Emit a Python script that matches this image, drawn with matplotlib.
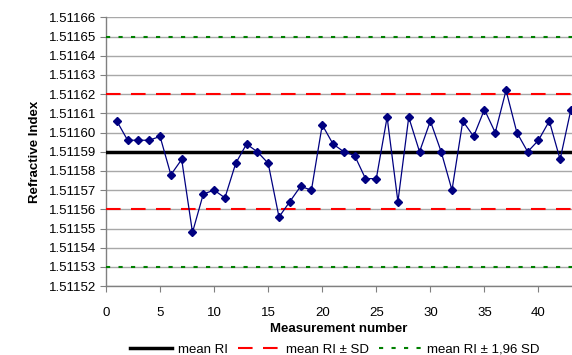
import matplotlib
matplotlib.use("Agg")
import matplotlib.pyplot as plt
from matplotlib.ticker import MultipleLocator, FormatStrFormatter

plt.rcParams['font.family'] = ['Liberation Sans', 'DejaVu Sans']

measurement = list(range(1, 44))
ri = [1.511606, 1.511596, 1.511596, 1.511596, 1.511598, 1.511578, 1.511586,
      1.511548, 1.511568, 1.511570, 1.511566, 1.511584, 1.511594, 1.511590,
      1.511584, 1.511556, 1.511564, 1.511572, 1.511570, 1.511604, 1.511594,
      1.511590, 1.511588, 1.511576, 1.511576, 1.511608, 1.511564, 1.511608,
      1.511590, 1.511606, 1.511590, 1.511570, 1.511606, 1.511598, 1.511612,
      1.511600, 1.511622, 1.511600, 1.511590, 1.511596, 1.511606, 1.511586,
      1.511612]
mean_ri = 1.51159
sd_limits = [1.51156, 1.51162]
sd196_limits = [1.51153, 1.51165]

fig = plt.figure(figsize=(5.72, 3.55), dpi=100)
ax = fig.add_axes([0.1853, 0.194, 0.8147, 0.757])

ax.set_xlim(0, 43.1)
ax.set_ylim(1.51152, 1.51166)
ax.yaxis.set_major_locator(MultipleLocator(0.00001))
ax.yaxis.set_major_formatter(FormatStrFormatter('%.5f'))
ax.xaxis.set_major_locator(MultipleLocator(5))
ax.grid(axis='y', color='#a8a8a8', lw=1.0, zorder=0)
ax.set_axisbelow(True)

for s in ['top', 'right']:
    ax.spines[s].set_visible(False)
for s in ['left', 'bottom']:
    ax.spines[s].set_color('#808080')
    ax.spines[s].set_linewidth(1.0)
ax.tick_params(axis='both', direction='out', length=4, color='#808080',
               labelsize=9.5, pad=3)
ax.tick_params(axis='x', pad=11)

ax.axhline(mean_ri, color='black', lw=2.5, zorder=3, label='mean RI')
ax.axhline(sd_limits[0], color='#ff0000', lw=1.5, dashes=(7, 5), zorder=3,
           label='mean RI \u00b1 SD')
ax.axhline(sd_limits[1], color='#ff0000', lw=1.5, dashes=(7, 5), zorder=3)
ax.axhline(sd196_limits[0], color='#008000', lw=1.5, dashes=(2, 4), zorder=3,
           label='mean RI \u00b1 1,96 SD')
ax.axhline(sd196_limits[1], color='#008000', lw=1.5, dashes=(2, 4), zorder=3)

ax.plot(measurement, ri, color='#000080', lw=0.9, marker='D', ms=3.8,
        mec='#000080', mfc='#000080', zorder=4, clip_on=False)

ax.set_xlabel('Measurement number', fontsize=9.5, fontweight='bold', labelpad=3)
ax.set_ylabel('Refractive Index', fontsize=9.5, fontweight='bold', labelpad=6)

handles, labels = ax.get_legend_handles_labels()
fig.legend(handles, labels, loc='center', bbox_to_anchor=(0.585, 0.015),
           ncol=3, frameon=False, fontsize=9.5, handlelength=3.2,
           handletextpad=0.4, columnspacing=0.8, borderpad=0)

fig.savefig('out.png', dpi=100)
